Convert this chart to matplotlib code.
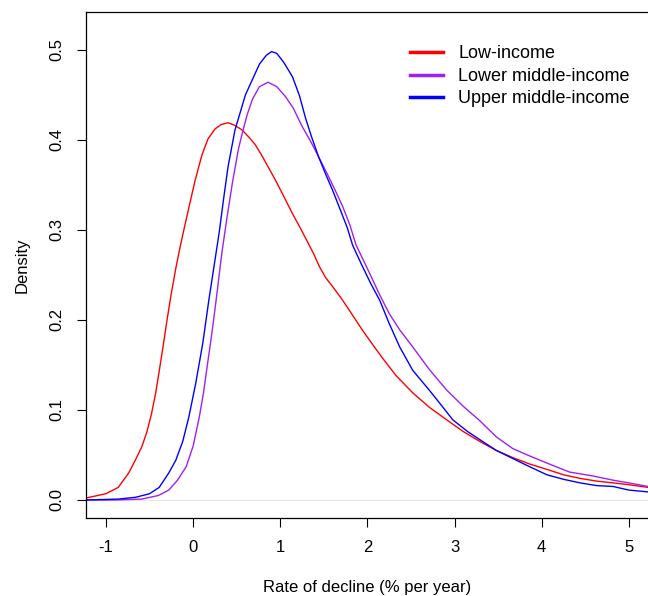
import matplotlib
matplotlib.use("Agg")
import matplotlib.pyplot as plt

plt.rcParams["font.family"] = ["Liberation Sans", "DejaVu Sans"]
plt.rcParams["axes.unicode_minus"] = False

labels = ["Low-income", "Lower middle-income", "Upper middle-income"]
colors = ["#ff0000", "#a020f0", "#0000ff"]

# density curves
low_x = [-1.24, -1.0, -0.86, -0.74, -0.66, -0.59, -0.53, -0.48, -0.43, -0.39, -0.34, -0.30,
         -0.25, -0.20, -0.15, -0.10, -0.03, 0.02, 0.1, 0.17, 0.25, 0.32, 0.40, 0.48, 0.56,
         0.63, 0.71, 0.78, 0.86, 0.94, 1.02, 1.14, 1.23, 1.30, 1.38, 1.45, 1.52, 1.60,
         1.70, 1.79, 1.94, 2.05, 2.17, 2.33, 2.52, 2.71, 2.91, 3.1, 3.29, 3.48, 3.67,
         3.86, 4.06, 4.25, 4.44, 4.63, 4.82, 5.0, 5.22]
low_y = [0.002, 0.007, 0.014, 0.03, 0.045, 0.059, 0.076, 0.095, 0.119, 0.143, 0.174, 0.2,
         0.23, 0.257, 0.281, 0.303, 0.333, 0.354, 0.383, 0.401, 0.412, 0.417, 0.419, 0.416, 0.411,
         0.404, 0.395, 0.384, 0.37, 0.356, 0.341, 0.318, 0.302, 0.289, 0.274, 0.259, 0.247, 0.237,
         0.224, 0.211, 0.189, 0.174, 0.158, 0.138, 0.119, 0.103, 0.089, 0.076, 0.065, 0.055, 0.047,
         0.04, 0.034, 0.028, 0.024, 0.021, 0.019, 0.017, 0.014]

lmid_x = [-1.24, -0.9, -0.59, -0.4, -0.28, -0.18, -0.08, 0.0, 0.07, 0.12, 0.16, 0.20, 0.24,
          0.28, 0.33, 0.39, 0.45, 0.52, 0.57, 0.62, 0.68, 0.76, 0.86, 0.96, 1.06, 1.15,
          1.25, 1.35, 1.44, 1.54, 1.63, 1.72, 1.8, 1.87, 1.99, 2.14, 2.25, 2.37, 2.52,
          2.71, 2.91, 3.1, 3.29, 3.48, 3.67, 3.86, 4.06, 4.32, 4.57, 4.82, 5.0, 5.22]
lmid_y = [0.0, 0.0, 0.001, 0.005, 0.011, 0.022, 0.037, 0.06, 0.092, 0.12, 0.148, 0.175, 0.204,
          0.235, 0.275, 0.315, 0.352, 0.39, 0.41, 0.428, 0.445, 0.459, 0.464, 0.459, 0.448, 0.435,
          0.415, 0.398, 0.381, 0.362, 0.344, 0.325, 0.305, 0.283, 0.259, 0.228, 0.207, 0.189, 0.17,
          0.145, 0.122, 0.104, 0.088, 0.07, 0.057, 0.049, 0.041, 0.031, 0.027, 0.022, 0.019, 0.015]

umid_x = [-1.24, -0.86, -0.66, -0.5, -0.39, -0.28, -0.2, -0.12, -0.05, 0.03, 0.11, 0.18,
          0.24, 0.30, 0.35, 0.40, 0.48, 0.52, 0.6, 0.68, 0.76, 0.84, 0.9, 0.96, 1.04,
          1.14, 1.22, 1.29, 1.36, 1.44, 1.52, 1.6, 1.69, 1.77, 1.83, 1.93, 2.04, 2.14,
          2.25, 2.37, 2.52, 2.71, 2.85, 2.98, 3.15, 3.29, 3.48, 3.67, 3.86, 4.06, 4.25,
          4.44, 4.63, 4.82, 5.0, 5.22]
umid_y = [0.0, 0.001, 0.003, 0.007, 0.014, 0.03, 0.044, 0.065, 0.092, 0.13, 0.174, 0.222,
          0.26, 0.298, 0.335, 0.37, 0.411, 0.424, 0.45, 0.467, 0.484, 0.494, 0.498, 0.496, 0.486,
          0.47, 0.449, 0.424, 0.403, 0.381, 0.362, 0.344, 0.322, 0.302, 0.283, 0.262, 0.24, 0.222,
          0.196, 0.17, 0.144, 0.122, 0.105, 0.089, 0.076, 0.067, 0.055, 0.046, 0.037, 0.028, 0.023,
          0.019, 0.016, 0.015, 0.011, 0.009]

series = [(low_x, low_y), (lmid_x, lmid_y), (umid_x, umid_y)]

fig = plt.figure(figsize=(6.48, 5.96), dpi=100)
ax = fig.add_axes([86 / 648, 1 - 518 / 596, 1 - 86 / 648, (518 - 12) / 596])

ax.axhline(0, color="#e6e6e6", lw=0.8, zorder=0)
for (x, y), c, lab in zip(series, colors, labels):
    ax.plot(x, y, color=c, lw=1.0, label=lab)

ax.set_xlim(-1.23, 5.22)
ax.set_ylim(-0.02, 0.542)
ax.set_xticks([-1, 0, 1, 2, 3, 4, 5])
ax.set_yticks([0.0, 0.1, 0.2, 0.3, 0.4, 0.5])
ax.set_yticklabels(["0.0", "0.1", "0.2", "0.3", "0.4", "0.5"], rotation=90, va="center")
ax.tick_params(direction="out", length=6.5, width=0.8, labelsize=12, pad=9)
ax.spines["right"].set_visible(False)
for s in ["left", "top", "bottom"]:
    ax.spines[s].set_linewidth(0.9)

ax.set_xlabel("Rate of decline (% per year)", fontsize=12, labelpad=18)
ax.set_ylabel("Density", fontsize=12, labelpad=14)

leg = ax.legend(loc="upper left", bbox_to_anchor=(0.547, 0.966), frameon=False,
                fontsize=13, handlelength=1.85, handletextpad=0.85, labelspacing=0.3)
for line in leg.get_lines():
    line.set_linewidth(2.5)

fig.savefig("out.png", dpi=100)
